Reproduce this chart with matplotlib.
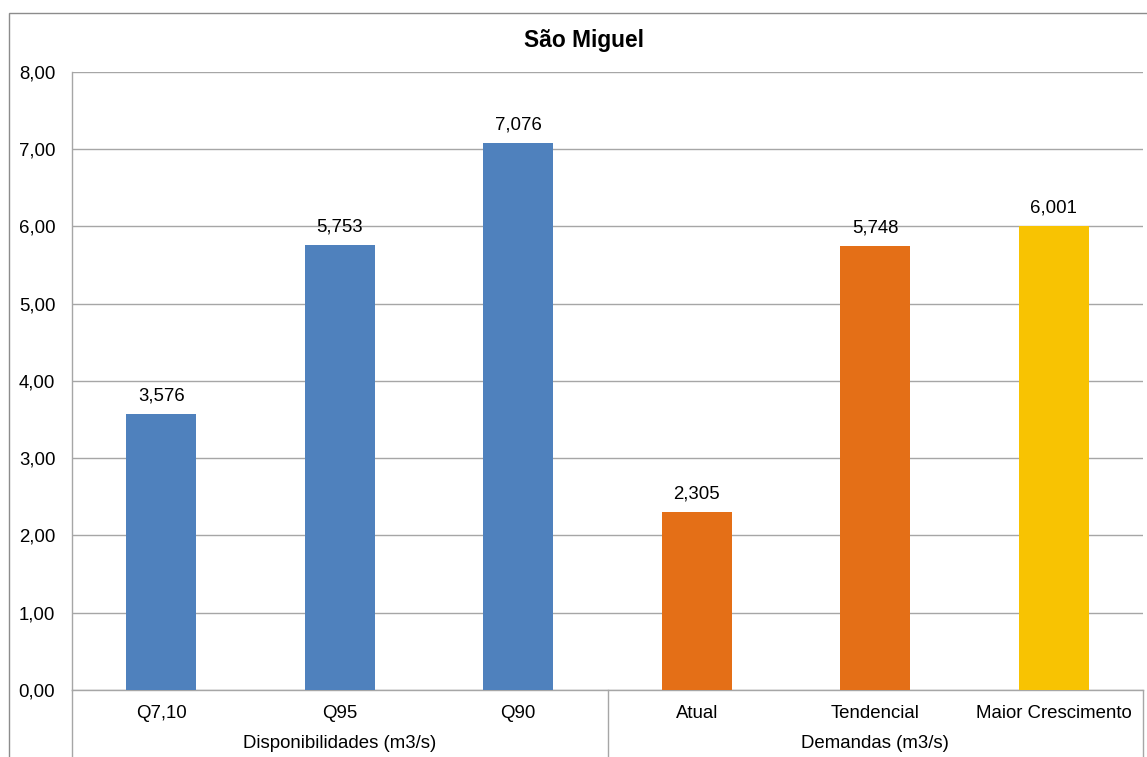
import matplotlib
matplotlib.use("Agg")
import matplotlib.pyplot as plt
from matplotlib.patches import Rectangle
from matplotlib.ticker import FuncFormatter, MultipleLocator
import matplotlib.transforms as mtransforms

plt.rcParams['font.family'] = ['Liberation Sans', 'DejaVu Sans']

title = "São Miguel"
categories = ["Q7,10", "Q95", "Q90", "Atual", "Tendencial", "Maior Crescimento"]
values = [3.576, 5.753, 7.076, 2.305, 5.748, 6.001]
groups = ["Disponibilidades (m3/s)", "Demandas (m3/s)"]
group_sizes = [3, 3]
bar_colors = ["#4F81BD", "#4F81BD", "#4F81BD", "#E46F17", "#E46F17", "#F8C302"]

W, H = 1147, 757
FS = 13.4
fig = plt.figure(figsize=(W / 100, H / 100), dpi=100)

# outer chart frame (open to the right and bottom edges)
frame = Rectangle((9 / W, -0.1), 1.2, 1 - 13 / H + 0.1, transform=fig.transFigure,
                  fill=False, edgecolor="#8C8C8C", linewidth=1.0)
fig.patches.append(frame)

ax = fig.add_axes([72 / W, 1 - 690 / H, (1143 - 72) / W, (690 - 71.7) / H])

grid_c = "#A6A6A6"
x = list(range(len(categories)))
ax.bar(x, values, width=0.39, color=bar_colors, zorder=3)
ax.set_xlim(-0.5, len(categories) - 0.5)
ax.set_ylim(0, 8)
ax.yaxis.set_major_locator(MultipleLocator(1))
ax.yaxis.set_major_formatter(FuncFormatter(lambda v, p: f"{v:.2f}".replace(".", ",")))
ax.grid(axis="y", color=grid_c, linewidth=1.0, zorder=0)
ax.tick_params(axis="y", length=0, pad=12, labelsize=FS, colors="#000000")
ax.tick_params(axis="x", length=0, pad=11, labelsize=FS)
ax.set_xticks(x)
ax.set_xticklabels(categories)

for s in ["top", "right"]:
    ax.spines[s].set_visible(False)
for s in ["left", "bottom"]:
    ax.spines[s].set_color(grid_c)
    ax.spines[s].set_linewidth(1.0)

for xi, v in zip(x, values):
    ax.annotate(f"{v:.3f}".replace(".", ","), (xi, v), xytext=(0, 13),
                textcoords="offset points", ha="center", va="center", fontsize=FS)

# group separators and group labels under the category axis
trans = mtransforms.blended_transform_factory(ax.transData, ax.transAxes)
bounds = [-0.5]
for n in group_sizes:
    bounds.append(bounds[-1] + n)
for b in bounds:
    ax.plot([b, b], [0, -0.2], transform=trans, color=grid_c, linewidth=1.0, clip_on=False)
for i, g in enumerate(groups):
    cx = (bounds[i] + bounds[i + 1]) / 2
    ax.text(cx, -53 / (690 - 71.7), g, transform=trans, ha="center", va="center", fontsize=FS)

fig.text(584 / W, 1 - 41 / H, title, ha="center", va="center", fontsize=16.4, fontweight="bold")

fig.savefig("out.png", dpi=100)
